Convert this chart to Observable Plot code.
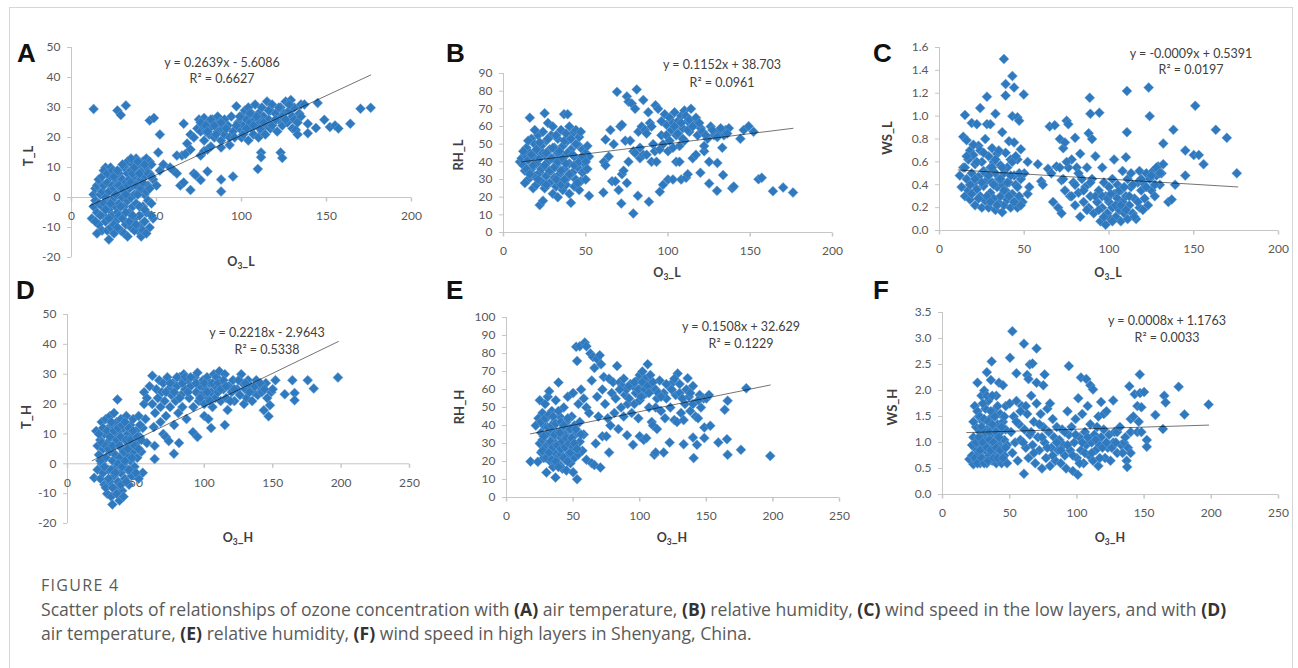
<!DOCTYPE html>
<html><head><meta charset="utf-8">
<script src="https://cdn.jsdelivr.net/npm/d3@7"></script>
<script src="https://cdn.jsdelivr.net/npm/@observablehq/plot@0.6"></script>
<style>
body{margin:0;background:#fff;width:1298px;height:668px;overflow:hidden;position:relative;font-family:Lato,"Open Sans",sans-serif}
#frame{position:absolute;left:9px;top:7px;width:1284px;height:720px;border:1px solid #d6d6d6;box-sizing:border-box}
.t{position:absolute;white-space:nowrap;transform:translate(-50%,-50%)}
.letter{position:absolute;font-family:"Liberation Sans",Arial,sans-serif;font-weight:bold;font-size:26px;line-height:26px;color:#111}
.ytitle{font-weight:bold;font-size:13px;color:#404040;transform:translate(-50%,-50%) rotate(-90deg)}
.xtitle{font-weight:bold;font-size:12.5px;color:#404040}
.xtitle sub{font-size:8.5px;vertical-align:-3px;line-height:0}
.eq{font-size:12.5px;color:#404040}
.plotbox{position:absolute}
#cap{position:absolute;left:41px;top:573px;font-family:"Open Sans",sans-serif;color:#5a5a5a}
#cap .fig{font-size:16px;letter-spacing:1.3px;line-height:24px}
#cap .body{font-size:17.6px;line-height:24px;margin-top:0px;white-space:nowrap}
#cap b{color:#333;font-weight:700}
</style></head>
<body>
<div id="frame"></div>
<script>
// ---------- data ----------
const xTicksL = [0, 50, 100, 150, 200];
const xTicksH = [0, 50, 100, 150, 200, 250];
const yTicksA = [-20, -10, 0, 10, 20, 30, 40, 50];
const yTicksB = [0, 10, 20, 30, 40, 50, 60, 70, 80, 90];
const yTicksC = [0, 0.2, 0.4, 0.6, 0.8, 1.0, 1.2, 1.4, 1.6];
const yTicksD = [-20, -10, 0, 10, 20, 30, 40, 50];
const yTicksE = [0, 10, 20, 30, 40, 50, 60, 70, 80, 90, 100];
const yTicksF = [0, 0.5, 1.0, 1.5, 2.0, 2.5, 3.0, 3.5];

const panelLetters = ["A", "B", "C", "D", "E", "F"];
const yTitles = ["T_L", "RH_L", "WS_L", "T_H", "RH_H", "WS_H"];
const xTitles = ["L", "L", "L", "H", "H", "H"];
const slopes = [0.2639, 0.1152, -0.0009, 0.2218, 0.1508, 0.0008];
const intercepts = [-5.6086, 38.703, 0.5391, -2.9643, 32.629, 1.1763];
const eqLabels = ["y = 0.2639x - 5.6086", "y = 0.1152x + 38.703", "y = -0.0009x + 0.5391",
                  "y = 0.2218x - 2.9643", "y = 0.1508x + 32.629", "y = 0.0008x + 1.1763"];
const r2Labels = ["R² = 0.6627", "R² = 0.0961", "R² = 0.0197", "R² = 0.5338", "R² = 0.1229", "R² = 0.0033"];
const trendXL = [11, 176];
const trendXH = [18, 198];

// A: O3_L vs T_L
const ptsA = [
[13,29.5],[27,29],[29,27.5],[32,30.7],[46,25.7],[48.5,26.5],
[12,-7],[13,-3],[13,1],[14,3],[14,-1],[15,-5],[15,4],[16,-2],[16,-9],[17,1],[17,5],[18,-3],[18,-11],[18,2],[19,4],[19,-6],[20,10],[20,0],[20,-8],[21,-2],[21,5],[21,-11],[22,-14],[22,-4],[22,2],[23,10],[23,-10],[23,7],[24,-1],[24,-6],[24,4],[25,3],[25,-12],[25,0],[26,6],[26,-3],[26,-8],[27,1],[27,4],[27,-5],[28,-2],[28,-6],[28,8],[29,-11],[29,3],[29,6],[30,0],[30,6],[30,-7],[31,10],[31,-3],[31,2],[32,5],[32,-9],[32,11],[33,8],[33,-1],[33,12],[34,3],[34,-5],[34,6],[35,-10],[35,0],[35,9],[36,11],[36,-3],[36,4],[37,7],[37,-7],[37,1],[38,13],[38,-2],[38,10],[39,5],[39,-11],[39,8],[40,2],[40,-6],[40,11],[41,-13],[41,6],[41,-9],[42,9],[42,-3],[42,12],[43,1],[43,-8],[43,7],[44,10],[44,-5],[44,13],[45,4],[45,-1],[46,8],[46,-10],[46,12],[47,11],[47,-2],[48,6],[48,-7],
[14,-8],[15,-12],[16,6],[17,-6],[18,7],[19,-2],[19,9],[20,-4],[21,8],[22,-7],[23,-2],[24,9],[25,-9],[25,7],[26,1],[27,-10],[27,9],[28,4],[29,-3],[30,3],[30,11],[31,-12],[32,-5],[32,1],[33,4],[33,-13],[34,-8],[35,13],[35,5],[36,-6],[36,8],[37,10],[37,-11],[38,4],[38,-9],[39,1],[39,12],[40,-3],[40,8],[41,3],[42,-11],[42,5],[43,11],[43,-4],[44,2],[44,-12],[45,8],[46,3],[47,-6],[47,7],
[50,4],[51,15],[52,21],[52,9],[54,11],[58,10],[60,9],[62,8],[62,14],[64,4],[65,14],[66,5],[67,14.5],[66,24.6],[68,18],[70,16],[70,2.5],[72,8],[73,7.5],[76,5.8],[76,14],[78,15.5],[80,8.7],[80,16],[82,17],[88,6],[88,2],[88,16.7],[93,17.5],[95,7],[109.6,9.5],[111.5,15],[111.5,13.4],[123,15],[124,13.2],
[70,21],[72,20],[74,23],[75,26],[76,22],[77,24],[78,19],[78,26.5],[79,22],[80,25],[81,21],[82,23.5],[83,26],[84,20],[85,24],[86,22],[86,27],[87,25],[88,19],[89,23],[90,26],[90,21],[92,24],[93,20],[94,27],[95,22],[96,20],[97,30.4],[98,25],[99,23],[100,20],[100,27],[101,24],[102,29],[102,22],[103,26],[104,19],[104,30],[105,25],[106,23],[106,28],[107,21],[108,26],[108,31],[109,24],[110,20],[110,28],[111,25],[112,22],[112,30],[113,27],[114,24],[114,21],[115,32],[116,26],[117,23],[117,29],[118,31],[119,25],[120,28],[121,22],[122,26],[123,30],[124,24],[125,28],[126,32],[127,25],[128,29],[129,32.5],[130,27],[130,23],[131,30],[132,22.5],[133,21],[134,28],[135,31],[137,31],[139,24.6],[139,21.4],[143.8,23.2],[144.8,31.5],[148.7,25.9],[152,23.5],[155,24],[157,23],[164,24.6],[170,29.6],[176,29.9],
[76,25],[79,24],[80,22],[82,26],[84,24],[85,21],[88,25],[91,23],[97,24],[99,27],[101,21],[103,23],[105,28],[107,24],[109,27],[111,23],[113,25],[116,29],[118,24],[120,26],[122,30],[124,27],[126,26],[128,31],[131,26],[133,25],[135,27]
];

// B: O3_L vs RH_L
const ptsB = [
[10,40],[11,42],[12,38],[13,44],[13,35],[14,48],[15,41],[15,30],[16,45],[16,65],[17,36],[17,53],[18,25],[18,43],[19,32],[19,50],[20,39],[20,27],[21,46],[21,55],[22,15.5],[22,34],[22,42],[23,29],[23,49],[24,18],[24,37],[24,57],[25,67.5],[25,44],[25,25],[26,32],[26,52],[27,40],[27,62],[28,28],[28,47],[29,35],[29,55],[30,22],[30,42],[30,60],[31,31],[31,48],[32,26],[32,38],[33,45],[33,20],[33,53],[34,33],[34,29],[35,41],[35,58],[36,24],[36,49],[36.8,67],[37,36],[38,44],[38,27],[39,67],[39,52],[39,31],[40,60],[40,22],[40,39],[41,16.8],[41,47],[42,34],[42,56],[43,26],[43,43],[44,58],[44,30],[45,50],[45,37],[46,54],[46,24],[47,42],[47,29],[48,47],[48,34],[49,39],[50,45],[50,30],[51,49],[52,20.8],[52,43],
[12,46],[13,28],[14,36],[15,52],[16,33],[17,44],[18,38],[19,58],[20,47],[21,30],[22,51],[23,36],[24,45],[25,38],[26,27],[26,45],[27,53],[28,35],[29,42],[30,48],[31,37],[32,55],[32,30],[33,40],[34,46],[35,27],[35,35],[36,42],[37,52],[37,30],[38,56],[38,39],[39,45],[40,33],[41,53],[42,44],[43,38],[44,50],[45,28],[46,40],[47,57],[48,43],[49,35],[50,40],[51,36],
[60.7,22.6],[61,40],[62,38],[62,52.6],[64,43],[65,58],[66,29],[67,50],[68,29],[69,79.6],[70,24],[71,60],[72,33],[72,61],[71.6,16.4],[73,35],[74,52],[75,28],[75,77],[76,40],[76,74],[77,52],[78,73],[78.9,10.8],[79,46],[80,45],[80,70],[81,81],[81.7,20.8],[82,57],[83,42],[83,48],[84,60],[85,75],[85,44],[86,58],[87,56],[87,44],[88,68],[88.4,17.4],[89,62],[90,60],[90,40],[91,50],[92,46],[92.4,72],[93,40],[94,70],[95,23],[95,47],[96,55],[97,27],[97,50],[98,67],[99,61],[100,46],[100,30],[101,65],[102,58],[103,30],[103,62],[104,68],[105,40],[105,55],[106,63],[107,40],[107,49],[108,30],[108,66],[109,59],[110,52],[110,69],[111,31],[112,33],[112,63],[113,57],[114,70],[115,42],[116,61],[117,44],[118,55],[119.7,33.8],[120,59],[122,46],[122,49],[124,53],[125,27.7],[125,40],[126,60],[128,55],[129.8,23.6],[130,39.4],[131,57],[133,48],[133.5,32.5],[134,55],[135,58],[137,59],[139,25],[140,26],[144,53],[146,58],[149,60.2],[152,57],[155,30.2],[157,31],[163.8,23.4],[170,25.5],[176,22.6],
[96,63],[99,55],[101,52],[103,48],[104,60],[106,56],[108,62],[109,53],[111,66],[112,58],[113,64],[115,60],[117,65],[119,62],[121,57],[123,55],[127,58],[130,54],[132,59],[136,56]
];

// C: O3_L vs WS_L
const ptsC = [
[12,0.48],[13,0.38],[14,0.82],[14,0.55],[15,1.01],[15,0.3],[16,0.79],[16,0.45],[17,0.62],[17,0.35],[18,0.27],[18,0.7],[19,0.94],[19,0.5],[20,0.41],[20,0.66],[21,0.22],[21,0.58],[22,0.93],[22,0.36],[23,0.74],[23,0.47],[24,1.07],[24,0.3],[25,0.6],[25,0.2],[26,0.52],[26,0.39],[27,0.8],[27,0.26],[28,1.17],[28,0.93],[28,0.44],[29,0.65],[29,0.2],[30,0.93],[30,0.55],[30,0.33],[31,0.72],[31,0.42],[32,0.28],[32,0.6],[33,1.02],[33,0.5],[33,0.18],[34,0.38],[34,0.67],[35,0.45],[35,0.24],[36,0.57],[36,0.3],[37,0.86],[37,0.4],[37,0.16],[38,1.5],[38,0.5],[38,0.22],[39,1.28],[39,1.18],[39,0.68],[39,0.35],[40,0.27],[40,0.55],[41,0.78],[41,0.42],[42,0.2],[42,0.62],[43,1.35],[43,1.0],[43,0.32],[44,0.48],[44,0.77],[44,1.25],[45,0.25],[45,0.4],[46,0.99],[46,0.62],[46,0.2],[47,0.96],[47,0.3],[48,0.71],[48,0.45],[49,0.25],[49.7,1.19],[50,0.5],[52,0.6],[52,0.32],[53,0.38],
[15,0.55],[16,0.65],[18,0.4],[19,0.32],[20,0.75],[21,0.45],[22,0.6],[23,0.28],[24,0.7],[25,0.42],[26,0.68],[27,0.5],[28,0.3],[29,0.48],[30,0.25],[31,0.55],[32,0.4],[33,0.62],[34,0.22],[35,0.7],[36,0.45],[37,0.55],[38,0.35],[40,0.42],[41,0.3],[42,0.48],[43,0.6],[44,0.25],[45,0.65],[46,0.38],[47,0.5],[48,0.22],
[58,0.58],[60,0.43],[61,0.40],[64,0.54],[65,0.91],[66,0.5],[67,0.25],[68,0.92],[69,0.56],[70,0.2],[71,0.8],[72,0.44],[72,0.15],[73,0.72],[74,0.77],[74,0.35],[75,0.96],[76,0.93],[76,0.55],[77,0.3],[78,0.62],[79,0.42],[80,0.81],[80,0.22],[81,0.55],[82,0.33],[83,0.67],[83,0.12],[84,0.45],[85,0.25],[86,0.38],[87,0.55],[88,0.85],[88,0.2],[88.6,1.16],[89,1.02],[89,0.3],[90,0.8],[90,0.45],[91,0.15],[92,0.65],[93,0.25],[94.3,1.03],[94,0.35],[95,0.08],[96,0.55],[96,0.2],[97,0.42],[98,0.05],[98,0.3],[99,0.15],[100,0.38],[100,0.25],[101,0.1],[102,0.45],[102,0.2],[103,0.62],[103,0.32],[104,0.12],[105,0.28],[105,0.4],[106,0.18],[107,0.35],[107,0.08],[108,0.52],[108,0.25],[109,0.15],[110,0.64],[110,0.3],[110.6,1.22],[110.6,0.86],[111,0.45],[111,0.1],[112,0.22],[113,0.38],[113,0.5],[114,0.15],[115,0.28],[116,0.1],[117,0.42],[118,0.52],[118,0.2],[119,0.35],[120,0.42],[121,0.28],[122,0.5],[123,0.22],[123.4,1.25],[124,1.0],[124,0.45],[125,0.35],[126,0.52],[127,0.3],[128,0.48],[129,0.56],[130,0.4],[131,0.5],[132,0.76],[132,0.58],[135,0.25],[137,0.27],[138,0.88],[139,0.4],[145,0.7],[145,0.48],[150,0.66],[150.9,1.09],[153,0.66],[155.8,0.58],[163,0.88],[169.5,0.81],[175.4,0.5],
[85,0.35],[87,0.18],[89,0.42],[92,0.3],[94,0.18],[96,0.3],[97,0.12],[99,0.28],[101,0.32],[102,0.08],[104,0.22],[106,0.35],[107,0.22],[109,0.38],[110,0.18],[112,0.3],[114,0.4],[115,0.12],[117,0.25],[119,0.45],[120,0.18],[122,0.38],[125,0.48],[127,0.4],[128,0.55],[130,0.5],[71,0.55],[73,0.45],[75,0.6],[78,0.3],[80,0.4],[82,0.5]
];

// D: O3_H vs T_H
const ptsD = [
[19.5,-4.7],[21,11],[22,6],[22,-2],[23,3],[24,8],[24,-5],[25,14],[25,0],[26,5],[26,-3],[27,10],[27,-7],[28,15],[28,2],[29,7],[29,-10],[30,12],[30,-2],[31,4],[31,16],[31,-6],[32,9],[32,-11],[32.8,-13.6],[33,1],[33,13],[34,6],[34,-4],[34,17],[35,-8],[35,10],[35,3],[36,14],[36,-1],[36.5,21.5],[37,7],[37,-6],[38,-12.3],[38,11],[38,2],[39,15],[39,-3],[40,5],[40,-9],[41,12],[41,0],[42,8],[42,-5],[43,16],[43,3],[44,-2],[44,10],[45,6],[45,-7],[46,13],[46,1],[47,9],[47,-4],[48,15],[48,4],[49,-1],[50,11],[50,7],[51,2],[52,16],[52,-5],[53,9],[54,4],[55,12],[55,-3],[56,20],[57,15],[58,7],
[23,10],[24,1],[25,7],[26,12],[27,-1],[28,6],[28,-8],[29,11],[30,5],[30,-5],[31,9],[32,14],[32,-2],[33,6],[33,-8],[34,11],[35,-3],[36,8],[36,-10],[37,12],[37,0],[38,6],[39,9],[39,-7],[40,13],[40,-1],[41,4],[41,-11],[42,14],[42,1],[43,8],[43,-6],[44,5],[45,12],[45,-2],[46,8],[47,2],[48,11],[49,6],[50,-3],[51,9],[52,5],[53,13],[54,8],
[56,24],[58,22],[60,26],[62,29.5],[62,20],[63.7,1.6],[63.7,6],[63,12.3],[64,17],[65,25],[66,22],[67,28],[68,14],[68,19],[69,24],[70,10],[70,27],[71,21],[72,9],[72,16],[73,29],[74,7.6],[74,25],[75,19],[76,23],[77,27],[77.8,3.4],[78,13],[79,21],[80,26],[81.5,7],[81,17],[82,29],[83,23],[84,19],[85,30],[86,25],[87,15],[88,28],[89,22],[90,26],[91.7,10.6],[92,19],[93,29],[94,24],[95,9],[95,30.5],[96,21],[97,26],[98,23],[99,28],[100,16],[100,20],[101,25],[102,29],[103,15],[103,22],[104,27],[105,12],[105,24],[106,19],[107,30],[108,26],[108,22],[109,29],[110,24],[111,31],[112,21],[113,27],[114,25],[115,13],[115,30],[116,22],[117,18],[118,26],[120,24],[121,28],[122,21],[124,25],[126,23],[127,30],[128,27],[129,20],[130,25],[131,22],[132,28],[134,26],[135,21],[136,24],[138,28],[139,23],[140,26],[142,24],[143.5,17.9],[145,27],[146,22],[147,15.9],[148,19.6],[149,24],[150,25],[152,28],[158.8,23.3],[164.4,28],[166,23.7],[166,21.3],[175.6,28],[180,25.2],[197.7,28.9],
[72,24],[75,27],[78,24],[80,29],[82,22],[84,27],[86,29],[88,24],[90,29],[94,27],[97,22],[100,27],[102,24],[104,21],[106,27],[110,27],[112,25],[114,28],[116,26],[119,21],[122,25],[125,28],[130,27],[133,24],[137,26],[141,27],[144,25]
];

// E: O3_H vs RH_H
const ptsE = [
[18,20],[22,40],[23.5,19.8],[24,44],[25,54],[25,30],[26,36],[26,25],[27,47],[27,32],[28,22],[28,40],[29,52],[29,28],[30,13.9],[30,35],[30,44],[31,24],[31,56],[32,59],[32,30],[33,38],[33,20],[34,27],[34,48],[35,33],[35,17],[36,42],[36,25],[36.8,11.1],[37,30],[37,54],[38,22],[38,36],[39,63.9],[39,28],[40,45],[40,18],[41,33],[41,24],[42,16],[42,38],[43,29],[43,50],[44,21],[44,35],[45,15],[45,27],[45,42],[46,32],[46,56],[47,24],[47,38],[48,19],[48,30],[49,45],[49,26],[50,14],[50,34],[50,58],[51,22],[51,40],[52,28],[53,10.2],[53,36],[54,24],[54,52],[55,31],[56,60],[57,26],[58,35],
[26,42],[27,26],[28,34],[29,44],[30,22],[31,39],[32,25],[32,46],[33,31],[34,40],[34,21],[35,45],[35,28],[36,35],[37,20],[37,41],[38,29],[39,48],[39,17],[40,36],[41,27],[41,42],[42,31],[43,22],[43,40],[44,28],[45,33],[46,20],[46,44],[47,30],[48,38],[48,25],[49,33],[50,28],[51,30],[52,38],[53,27],[55,42],[56,35],
[52.3,83.7],[53,75.9],[55,84],[58.8,86.1],[60,84],[60,21],[60,50],[58,55],[62,47],[63,80],[64,19],[64,65],[65,78],[66,18],[66,72],[67,30],[68,77],[68,56],[69,45],[70,79],[70.5,16.7],[71,74],[72,34],[72,60],[73,67],[74,52],[75,34],[76,44],[77,25],[77,66],[78,40],[79,58],[80,64],[81,47],[82,55],[83,73.1],[84,38],[85,64],[86,50],[87,62],[88,45],[89,57],[90,60],[90.5,34.6],[91,52],[92,55],[93,63],[94,47],[95,29.3],[95,62],[96,52],[97,58],[98,65],[99,44],[100,68],[100,54],[100,34],[101,61],[102,70],[103,32],[103,57],[104,66],[105,33],[105,58],[106,74],[107,50],[108,64],[109,42],[110,60],[110,40],[111,23.7],[112,50],[112,25],[113,38],[113,55],[115,65],[116,48],[118,25],[118,58],[119,44],[120,55],[122,62],[122.5,30.5],[123,50],[125,64],[126,43],[127,57],[128,42],[128.5,68.9],[130,58],[131,47],[133,29.6],[133,43],[134,52],[135,60],[136,66.3],[137,56],[138,48],[140,62],[140,52],[140,33.3],[140.5,21.9],[142,45],[143,29.3],[143.8,44],[145,57],[146,50],[148,55],[148.5,33],[148.5,38.9],[150,55],[152,57],[153,39.8],[159,30.6],[163.8,48.7],[165.5,32.4],[166,53.7],[166,23.7],[176,26.5],[180,60.7],[198,23.1],
[85,60],[88,66],[92,62],[96,64],[99,60],[101,56],[102,64],[104,60],[106,62],[107,58],[108,68],[110,64],[112,60],[114,58],[116,56],[120,63],[124,60],[126,66],[130,63],[132,55],[138,58],[144,54]
];

// F: O3_H vs WS_H
const ptsF = [
[20,0.68],[22,0.75],[23,1.1],[23,0.58],[24,0.9],[24,1.7],[25,1.3],[25,0.65],[26,2.15],[26,1.0],[27,0.8],[27,1.5],[28,1.2],[28,0.6],[29,1.9],[29,0.95],[30,1.4],[30,0.7],[31,1.1],[31,2.0],[32,0.85],[32,1.65],[33,2.35],[33,1.25],[33,0.6],[34,1.0],[34,1.8],[35,0.75],[35,1.45],[36,2.2],[36,1.15],[36.6,2.56],[37,0.65],[37,0.9],[38,1.6],[38,1.3],[39,0.8],[39,1.05],[40,1.9],[40,0.6],[41,1.35],[41,1.0],[42,2.15],[42,0.75],[43,1.55],[43,1.2],[44,0.9],[44,0.6],[45,2.1],[45,1.4],[46,1.05],[46,0.75],[47,1.7],[47,1.25],[48,0.95],[48,0.6],
[22,0.95],[23,1.4],[24,0.7],[25,1.0],[26,0.6],[26,1.6],[27,1.1],[28,0.85],[28,1.5],[29,0.7],[29,1.3],[30,1.0],[30,1.75],[31,0.6],[31,1.45],[32,1.2],[33,0.9],[33,1.9],[34,0.65],[34,1.4],[35,1.2],[35,1.05],[36,0.85],[36,1.6],[37,1.35],[37,1.9],[38,0.7],[38,1.0],[39,1.5],[40,1.2],[40,0.9],[41,0.7],[41,1.7],[42,1.1],[43,0.85],[44,1.3],[45,0.7],[46,1.5],[47,0.9],
[50,1.75],[50.2,2.63],[51,1.2],[52,3.14],[52,0.8],[53,1.5],[54,1.0],[55,2.33],[55,1.8],[56,0.65],[57,1.35],[58,1.05],[59,1.7],[60.6,2.9],[60.6,0.4],[61,1.25],[62,0.9],[63,2.3],[63,1.55],[64,2.22],[64,0.7],[65,2.5],[65,1.15],[66,1.9],[67,2.52],[67,0.95],[68,1.4],[69,0.6],[70,2.81],[70,2.15],[70,1.75],[71,1.1],[72,0.85],[73,1.55],[74,0.5],[75,2.1],[75,1.3],[76,2.31],[76,1.0],[77,0.7],[78,1.65],[79,1.2],[80,0.55],[80,1.75],[81,0.9],[82,1.45],[83,1.1],[84,0.65],[85,1.3],[86,0.85],[87,1.05],[88,0.6],[89,1.25],[90,0.95],[91,0.75],[92,0.5],[93,1.6],[94,2.47],[94,1.15],[95,0.85],[96,1.3],[97,0.45],[98,1.0],[99,1.45],[100,0.7],[100.7,0.38],[101,1.85],[102,1.1],[103,2.25],[103,0.85],[104,1.55],[105,0.6],[106,1.2],[107,2.22],[107,0.95],[108,1.7],[109,0.75],[110,2.1],[110,1.35],[111,1.0],[112,2.02],[112,0.65],[113,1.15],[114,0.85],[115,1.3],[116,1.5],[116,0.55],[117,0.95],[118,1.78],[118,1.1],[120,1.55],[120,1.25],[121,0.7],[122,1.6],[123,0.9],[124,1.15],[125,0.65],[127,1.81],[127,1.0],[128,1.2],[130,1.2],[130,0.8],[132,1.3],[133,0.95],[135,1.0],[136,1.1],[137,0.65],[137.4,0.53],[138,0.9],[139,2.08],[140,1.2],[140,1.45],[140,0.8],[142,1.5],[143,1.93],[145,1.2],[145,1.7],[146,1.4],[146.8,2.31],[147,1.95],[148,1.68],[148,1.2],[150,1.97],[152,1.05],[152,0.92],[158.4,1.53],[164,1.26],[165,1.9],[166,1.77],[175.7,2.07],[180,1.54],[198,1.73],
[55,1.4],[58,1.6],[60,1.0],[62,1.7],[66,1.2],[68,0.8],[72,1.35],[74,1.1],[78,0.9],[82,0.75],[85,1.0],[88,0.85],[91,1.2],[93,0.95],[97,0.75],[99,1.15],[102,0.6],[104,1.0],[106,0.8],[108,1.1],[111,0.8],[114,1.05],[117,0.7],[119,0.9],[122,1.0],[126,0.9],[129,1.0],[134,0.8]
];

// ---------- layout ----------
const panels = [
  {pts: ptsA, xT: xTicksL, yT: yTicksA, fmt: d => String(d), tx: trendXL, box: [71, 411, 47, 257],
   letter: [17, 40], ytitle: [28, 156], xtitle: [241, 261], eq: [222, 62, 78]},
  {pts: ptsB, xT: xTicksL, yT: yTicksB, fmt: d => String(d), tx: trendXL, box: [503, 832, 73, 232],
   letter: [446, 40], ytitle: [458, 155], xtitle: [667, 272], eq: [722, 64, 82]},
  {pts: ptsC, xT: xTicksL, yT: yTicksC, fmt: d => d.toFixed(1), tx: trendXL, box: [939, 1278, 47, 230],
   letter: [873, 40], ytitle: [887, 138], xtitle: [1108, 272], eq: [1191, 53, 69]},
  {pts: ptsD, xT: xTicksH, yT: yTicksD, fmt: d => String(d), tx: trendXH, box: [67, 409, 314, 523],
   letter: [16, 277], ytitle: [26, 417], xtitle: [238, 537], eq: [267, 332, 349]},
  {pts: ptsE, xT: xTicksH, yT: yTicksE, fmt: d => String(d), tx: trendXH, box: [506, 839, 317, 497],
   letter: [446, 277], ytitle: [459, 407], xtitle: [672, 537], eq: [741, 326, 343]},
  {pts: ptsF, xT: xTicksH, yT: yTicksF, fmt: d => d.toFixed(1), tx: trendXH, box: [942, 1278, 312, 494],
   letter: [873, 277], ytitle: [892, 407], xtitle: [1110, 537], eq: [1167, 320, 337]}
];

const AXIS = "#c6c6c6", LABEL = "#595959", BLUE = "#2f79bf";
const tickDown = {draw(ctx, size) { ctx.moveTo(0, 0); ctx.lineTo(0, 4); }};
const ml = 50, mr = 14, mt = 10, mb = 32;

function addDiv(cls, html, x, y) {
  const d = document.createElement("div");
  d.className = cls; d.innerHTML = html;
  d.style.left = x + "px"; d.style.top = y + "px";
  document.body.appendChild(d);
  return d;
}

panels.forEach((p, i) => {
  const [x0, x1, yTop, yBot] = p.box;
  const yDom = [p.yT[0], p.yT[p.yT.length - 1]];
  const xDom = [p.xT[0], p.xT[p.xT.length - 1]];
  const trend = p.tx.map(x => ({x, y: slopes[i] * x + intercepts[i]}));
  const chart = Plot.plot({
    width: (x1 - x0) + ml + mr,
    height: (yBot - yTop) + mt + mb,
    marginLeft: ml, marginRight: mr, marginTop: mt, marginBottom: mb,
    x: {domain: xDom, axis: null},
    y: {domain: yDom},
    style: {background: "transparent", fontFamily: "Lato, sans-serif", overflow: "visible"},
    marks: [
      Plot.ruleX([0], {stroke: AXIS}),
      Plot.ruleY([0], {stroke: AXIS}),
      Plot.axisY(p.yT, {tickSize: 4, tickPadding: 7, stroke: AXIS, fill: LABEL, fontSize: 12,
                        tickFormat: p.fmt, label: null}),
      Plot.dot(p.xT, {x: d => d, y: 0, symbol: tickDown, stroke: AXIS, fill: "none"}),
      Plot.text(p.xT, {x: d => d, y: 0, dy: 19, text: d => String(d), fill: LABEL, fontSize: 12}),
      Plot.dot(p.pts, {x: d => d[0], y: d => d[1], symbol: "diamond2", r: 4.5,
                       fill: BLUE, stroke: "#6ea3d6", strokeWidth: 0.5}),
      Plot.line(trend, {x: "x", y: "y", stroke: "#000", strokeOpacity: 0.55, strokeWidth: 1})
    ]
  });
  const box = document.createElement("div");
  box.className = "plotbox";
  box.style.left = (x0 - ml) + "px";
  box.style.top = (yTop - mt) + "px";
  box.appendChild(chart);
  document.body.appendChild(box);

  addDiv("letter", panelLetters[i], p.letter[0], p.letter[1]);
  addDiv("t ytitle", yTitles[i], p.ytitle[0], p.ytitle[1]);
  addDiv("t xtitle", "O<sub>3</sub>_" + xTitles[i], p.xtitle[0], p.xtitle[1]);
  addDiv("t eq", eqLabels[i], p.eq[0], p.eq[1]);
  addDiv("t eq", r2Labels[i], p.eq[0], p.eq[2]);
});

const cap = document.createElement("div");
cap.id = "cap";
cap.innerHTML = '<div class="fig">FIGURE 4</div><div class="body">Scatter plots of relationships of ozone concentration with <b>(A)</b> air temperature, <b>(B)</b> relative humidity, <b>(C)</b> wind speed in the low layers, and with <b>(D)</b><br>air temperature, <b>(E)</b> relative humidity, <b>(F)</b> wind speed in high layers in Shenyang, China.</div>';
document.body.appendChild(cap);
</script>
</body></html>
